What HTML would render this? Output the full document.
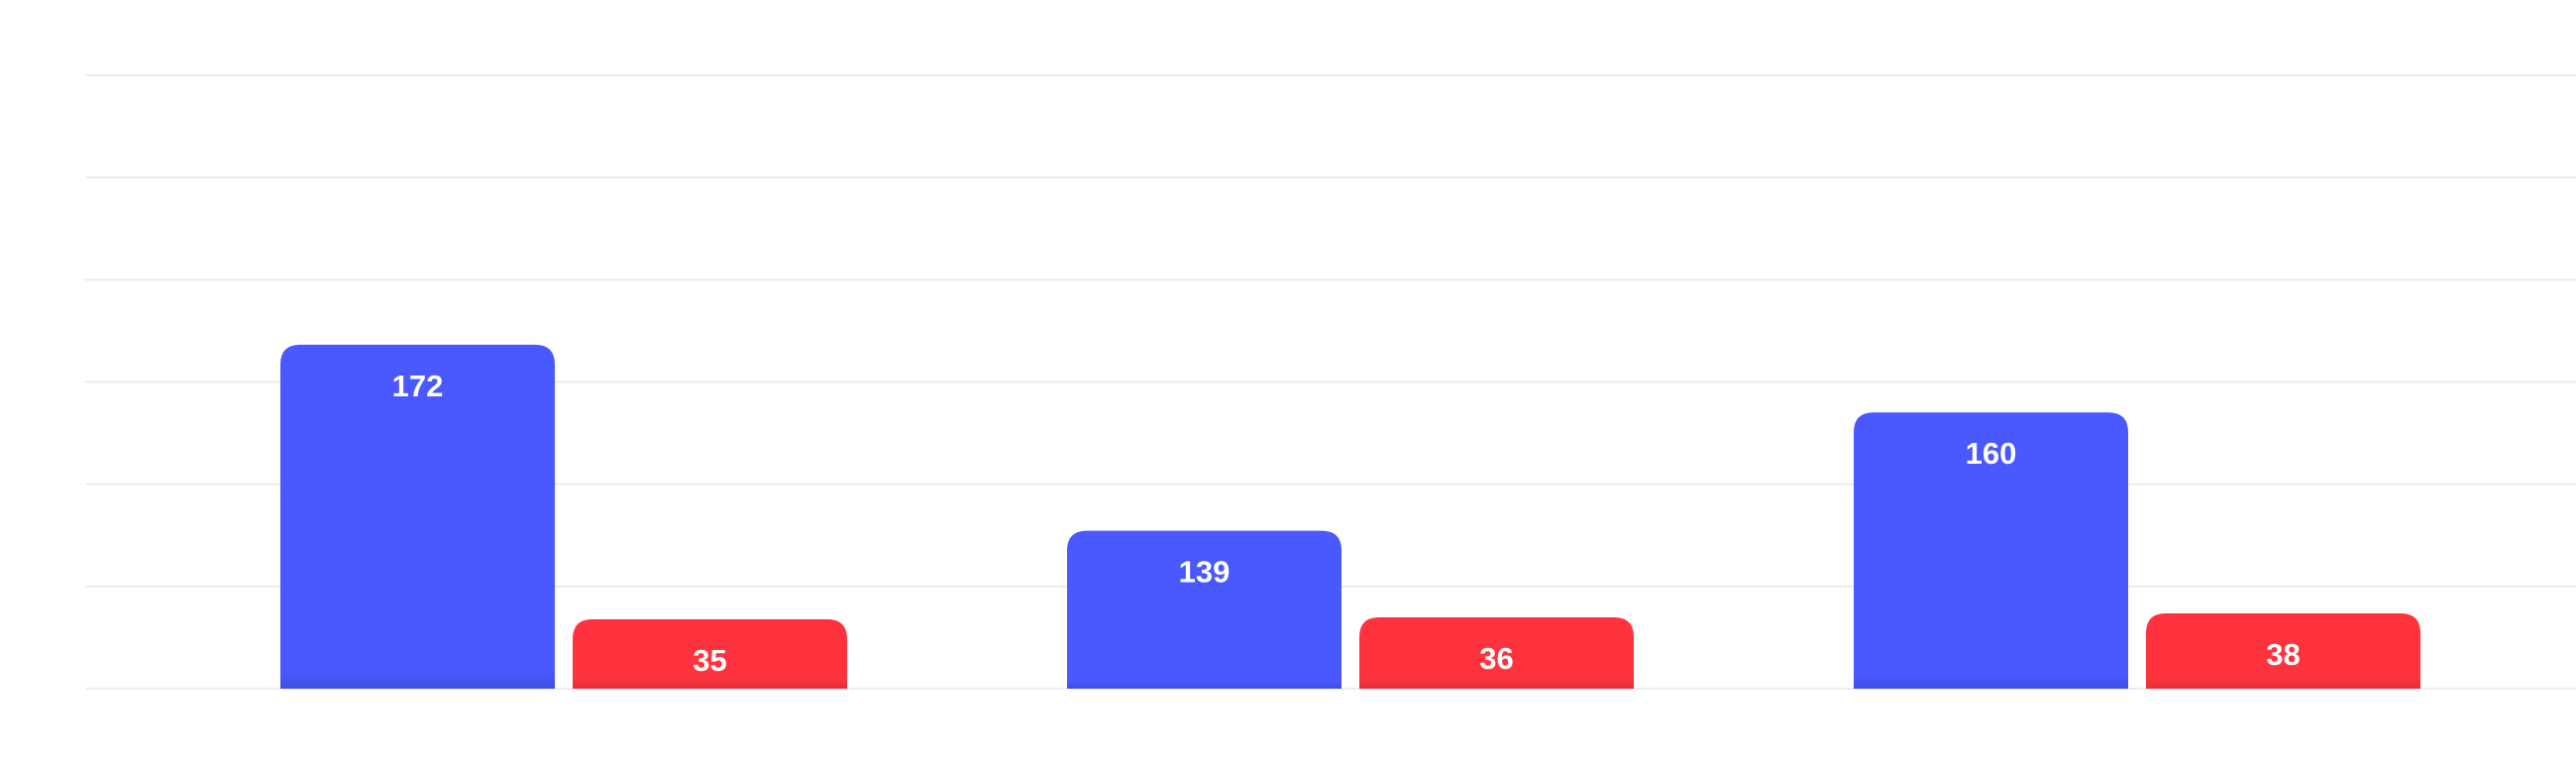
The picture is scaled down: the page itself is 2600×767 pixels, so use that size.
<!DOCTYPE html>
<html><head><meta charset="utf-8"><style>
html,body{margin:0;padding:0;background:#fff;width:2600px;height:767px;overflow:hidden}
svg{display:block}
</style></head><body>
<svg id="chart" width="2600" height="767" viewBox="0 0 2600 767" xmlns="http://www.w3.org/2000/svg">
<defs>
<linearGradient id="gb" x1="0" y1="0" x2="0" y2="1"><stop offset="0.95" stop-color="#4959FF"/><stop offset="1" stop-color="#3F4DE0"/></linearGradient>
<linearGradient id="gr" x1="0" y1="0" x2="0" y2="1"><stop offset="0.85" stop-color="#FF333D"/><stop offset="1" stop-color="#E52E37"/></linearGradient>
</defs>
<g id="grid"></g>
<g id="bars"></g>
</svg>
<script>
const categories = ["Group A", "Group B", "Group C"];
const seriesBlue = [172, 139, 160];
const seriesRed = [35, 36, 38];
const gridTicks = [0, 1, 2, 3, 4, 5, 6];

const NS = "http://www.w3.org/2000/svg";
const baseY = 695, topY = 76, gridLeft = 86, gridRight = 2600;
const plotLeft = 172, band = 794, barW = 277, gap = 18;
const blueMin = 111, bluePx = 5.69;
const redPx = 2.0;
function yBlue(v){ return baseY - (v - blueMin) * bluePx; }
function yRed(v){ return baseY - v * redPx; }
function yGrid(t){ return baseY - t * (baseY - topY) / (gridTicks.length - 1); }
function xBand(i){ return plotLeft + i * band + band / 2; }

const grid = document.getElementById('grid');
gridTicks.forEach(t => {
  const l = document.createElementNS(NS, 'line');
  l.setAttribute('x1', gridLeft); l.setAttribute('x2', gridRight);
  l.setAttribute('y1', yGrid(t)); l.setAttribute('y2', yGrid(t));
  l.setAttribute('stroke', '#e5e5e5'); l.setAttribute('stroke-width', '1.5');
  
  
  grid.appendChild(l);
});

function barPath(x, y, w, h, r){
  r = Math.min(r, h, w/2);
  return `M${x},${y+h} L${x},${y+r} Q${x},${y} ${x+r},${y} L${x+w-r},${y} Q${x+w},${y} ${x+w},${y+r} L${x+w},${y+h} Z`;
}
const bars = document.getElementById('bars');
function drawBar(x, top, fill, value, name){
  const p = document.createElementNS(NS, 'path');
  p.setAttribute('d', barPath(x, top, barW, baseY - top, 20));
  p.setAttribute('fill', fill);
  
  
  bars.appendChild(p);
  const t = document.createElementNS(NS, 'text');
  t.setAttribute('x', x + barW / 2);
  t.setAttribute('y', top + 52);
  t.setAttribute('text-anchor', 'middle');
  t.setAttribute('fill', '#fff');
  t.setAttribute('font-family', '"Liberation Sans", "DejaVu Sans", sans-serif');
  t.setAttribute('font-weight', 'bold');
  t.setAttribute('font-size', '31');
  t.textContent = value;
  
  
  bars.appendChild(t);
}
categories.forEach((c, i) => {
  const cx = xBand(i);
  drawBar(cx - gap/2 - barW, yBlue(seriesBlue[i]), 'url(#gb)', seriesBlue[i], 'blue-bar-' + (i+1));
  drawBar(cx + gap/2, yRed(seriesRed[i]), 'url(#gr)', seriesRed[i], 'red-bar-' + (i+1));
});
</script>
</body></html>
